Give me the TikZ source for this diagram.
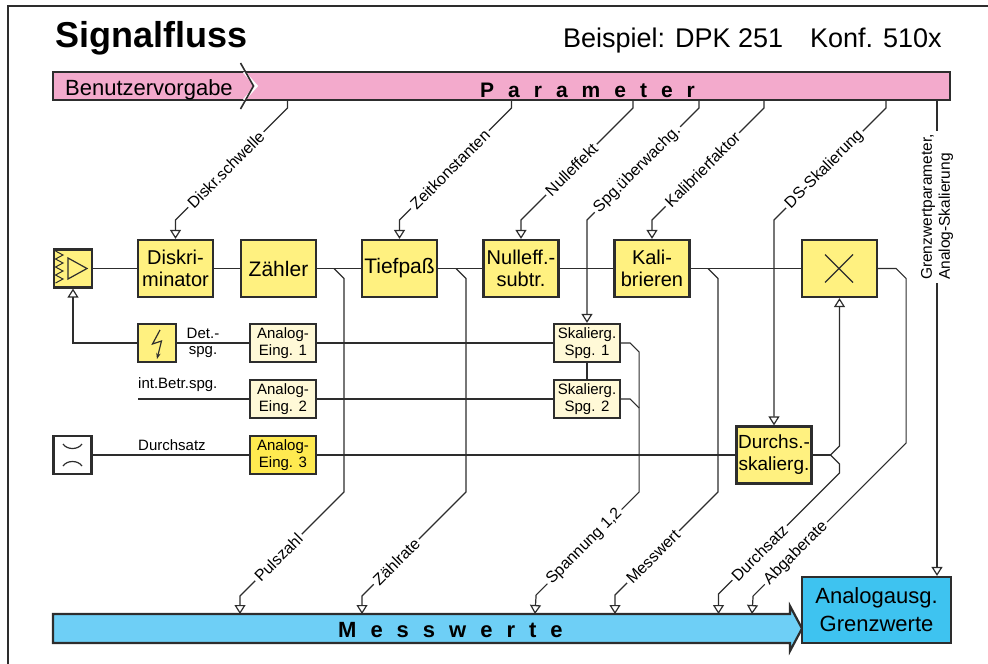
\documentclass[tikz,border=0pt]{standalone}
\usepackage{fontspec}
\setmainfont{Liberation Sans}
\usetikzlibrary{positioning}
\usetikzlibrary{arrows.meta}

\definecolor{rahmen}{RGB}{45,45,45}
\definecolor{rosa}{RGB}{243,170,204}
\definecolor{blau}{RGB}{110,207,246}
\definecolor{dblau}{RGB}{62,195,240}
\definecolor{gelb}{RGB}{255,241,128}
\definecolor{hgelb}{RGB}{255,249,215}
\definecolor{sgelb}{RGB}{255,234,80}

\newcommand{\schrift}[2]{\fontsize{#1}{#2}\selectfont}
\newcommand{\sperr}{\hskip 14pt}

\begin{document}
\begin{tikzpicture}[x=1pt, y=-1pt,
  sig/.style={draw=rahmen, line width=1.2pt},
  pfeil/.style={-{Triangle[open, length=9pt, width=11pt]}},
  blk/.style={draw=rahmen, line width=2.2pt, fill=gelb, align=center, inner sep=0pt,
    minimum width=75pt, minimum height=57pt, font=\schrift{20}{22}},
  sblk/.style={blk, fill=hgelb, minimum width=66pt, minimum height=38pt, font=\schrift{15}{17}},
  sym/.style={blk, minimum width=38pt, minimum height=38pt},
  lbl/.style={sloped, fill=white, inner sep=2.5pt, font=\schrift{16}{16}, pos=0.55},
  txt/.style={font=\schrift{15}{16}, inner sep=0pt},
  bar/.style={draw=rahmen, line width=2.2pt}]
 \useasboundingbox (0,0) rectangle (988,664);
 \draw[rahmen, line width=2pt] (8,664) -- (8,6) -- (988,6);

 \node[anchor=base west, inner sep=0pt, font=\schrift{36}{36}\bfseries] (titel) at (55,47) {Signalfluss};
 \node[anchor=base east, inner sep=0pt, font=\schrift{27}{27}] (bsp) at (942,47) {Beispiel: DPK 251\hspace{27pt}Konf. 510x};

 % Parameter
 \filldraw[bar, fill=rosa] (53,72) rectangle (950,100);
 \draw[white, line width=2.5pt] (244,72) -- (256.5,86) -- (244,100);
 \draw[rahmen, line width=1.6pt] (240.5,63) -- (253.5,86) -- (240.5,109);
 \node[anchor=base west, inner sep=0pt, font=\schrift{22}{22}] (benutzer) at (65,95.5) {Benutzervorgabe};
 \node[anchor=base west, inner sep=0pt, font=\schrift{21}{21}\bfseries] (param) at (480,97) {P\sperr a\sperr r\sperr a\sperr m\sperr e\sperr t\sperr e\sperr r};

 % Messwerte
 \filldraw[bar, fill=blau] (53,614) -- (790,614) -- (790,606) -- (802,628.5) -- (790,651) -- (790,643) -- (53,643) -- cycle;
 \node[anchor=base west, inner sep=0pt, font=\schrift{22}{22}\bfseries] (messw) at (338,637) {M\sperr e\sperr s\sperr s\sperr w\sperr e\sperr r\sperr t\sperr e};

 % Bloecke
 \node[sym] (amp) at (73,268.5) {};
 \node[blk] (disk) at (175.5,268.5) {Diskri-\\minator};
 \node[blk, font=\schrift{21}{22}] (zaehl) at (278.5,268.5) {Zähler};
 \node[blk, font=\schrift{21}{22}] (tief) at (399.5,268.5) {Tiefpaß};
 \node[blk] (null) at (521,268.5) {Nulleff.-\\subtr.};
 \node[blk] (kal) at (652,268.5) {Kali-\\brieren};
 \node[blk] (mult) at (839.5,268.5) {};
 \node[sym] (hv) at (157,343) {};
 \node[sblk] (ae1) at (283,343) {Analog-\\Eing. 1};
 \node[sblk] (ae2) at (283,399) {Analog-\\Eing. 2};
 \node[sblk, fill=sgelb] (ae3) at (283,455) {Analog-\\Eing. 3};
 \node[sym, fill=white] (flow) at (72.5,455) {};
 \node[sblk] (sk1) at (587,343) {Skalierg.\\Spg. 1};
 \node[sblk] (sk2) at (587,399) {Skalierg.\\Spg. 2};
 \node[blk, font=\schrift{19}{22}] (ds) at (774,455) {Durchs.-\\skalierg.};
 \node[blk, fill=dblau, minimum width=149pt, minimum height=66pt, font=\schrift{22}{28}] (aout) at (876.5,610) {Analogausg.\\Grenzwerte};

 % Symbole
 \draw[sig, line width=1pt] (55.5,251) -- (63,255) -- (55.5,259) -- (63,263) -- (55.5,267) -- (63,271) -- (55.5,275) -- (63,279) -- (55.5,283);
 \draw[sig] (68,258) -- (87,268.5) -- (68,279) -- cycle;
 \draw[sig, -{Stealth[length=6pt, width=4.5pt]}] (160,330) -- (152.5,344) -- (161.5,341) -- (157,359);
 \draw[sig] (825,254.5) -- (853,282.5) (825,282.5) -- (853,254.5);
 \draw[sig] (63,444) .. controls (67,450) and (78,450) .. (82,444);
 \draw[sig] (63,466) .. controls (67,460) and (78,460) .. (82,466);

 % Signalweg
 \draw[sig] (amp) -- (disk);
 \draw[sig] (disk) -- (zaehl);
 \draw[sig] (zaehl) -- (tief);
 \draw[sig] (tief) -- (null);
 \draw[sig] (null) -- (kal);
 \draw[sig] (kal) -- (mult);
 \draw[sig, pfeil] (hv.west) -| (amp.south);
 \draw[sig] (hv) -- (ae1);
 \draw[sig] (ae1) -- (sk1);
 \draw[sig] (ae2) -- (sk2);
 \draw[sig] (sk1) -- (sk2);
 \draw[sig] (flow) -- (ae3);
 \draw[sig] (ae3) -- (ds);
 \coordinate (ib) at (138,399);
 \draw[sig] (ib) -- (ae2);
 \node[txt, align=center] (detspg) at (203,343) {Det.-\\spg.};
 \node[txt, anchor=base west] (ibl) at (138,388) {int.Betr.spg.};
 \node[txt, anchor=base west] (dsl) at (138,450.5) {Durchsatz};

 % Parameter -> Bloecke
 \coordinate (t1) at (287.5,100);
 \coordinate (t2) at (511.5,100);
 \coordinate (t3) at (633,100);
 \coordinate (t4) at (699,100);
 \coordinate (t5) at (764,100);
 \coordinate (t6) at (886,100);
 \coordinate (t7) at (937,100);
 \draw[sig, pfeil] (t1) -- ++(0,8) -- node[lbl] {Diskr.schwelle} ++(-112,112) -- (disk.north);
 \draw[sig, pfeil] (t2) -- ++(0,8) -- node[lbl] {Zeitkonstanten} ++(-112,112) -- (tief.north);
 \draw[sig, pfeil] (t3) -- ++(0,8) -- node[lbl] {Nulleffekt} ++(-112,112) -- (null.north);
 \draw[sig, pfeil] (t4) -- ++(0,8) -- node[lbl] {Spg.überwachg.} ++(-112,112) -- (sk1.north);
 \draw[sig, pfeil] (t5) -- ++(0,8) -- node[lbl] {Kalibrierfaktor} ++(-112,112) -- (kal.north);
 \draw[sig, pfeil] (t6) -- ++(0,8) -- node[lbl] {DS-Skalierung} ++(-112,112) -- (ds.north);
 \draw[sig, pfeil] (t7) -- node[fill=white, rotate=90, inner sep=3pt, pos=0.225, align=left, font=\schrift{15.5}{18}] {Grenzwertparameter,\\Analog-Skalierung} (t7 |- aout.north);

 % Bloecke -> Messwerte
 \coordinate (m1) at (334,268.5);
 \coordinate (m2) at (456,268.5);
 \coordinate (m4) at (708,268.5);
 \coordinate (dn) at (830.5,455);
 \coordinate (e1) at (240,614);
 \coordinate (e2) at (362,614);
 \coordinate (e3) at (535,614);
 \coordinate (e4) at (615,614);
 \coordinate (e5) at (718.5,614);
 \coordinate (e6) at (752,614);
 \draw[sig, pfeil] (m1) -- ++(10,10) -- ++(0,213.5) -- node[lbl, pos=0.63] {Pulszahl} ++(-104,104) -- (e1);
 \draw[sig, pfeil] (m2) -- ++(10,10) -- ++(0,213.5) -- node[lbl, pos=0.67] {Zählrate} ++(-104,104) -- (e2);
 \draw[sig, pfeil] (sk1.east) -- ++(9,0) -- ++(9,9) -- ++(0,140) -- node[lbl, pos=0.53] {Spannung 1,2} ++(-103,103) -- (e3);
 \draw[sig] (sk2.east) -- ++(9,0) -- ++(9,9);
 \draw[sig, pfeil] (m4) -- ++(10,10) -- ++(0,213.5) -- node[lbl, pos=0.63] {Messwert} ++(-103,103) -- (e4);
 \draw[sig] (ds.east) -- (dn);
 \draw[sig, pfeil] (dn) -- ++(9,-9) -- (mult.south);
 \draw[sig, pfeil] (dn) -- ++(9,9) -- ++(0,9) -- node[lbl, pos=0.66] {Durchsatz} ++(-121,121) -- (e5);
 \draw[sig, pfeil] (mult.east) -- ++(18,0) -- ++(10,10) -- ++(0,164.5) -- node[lbl, pos=0.72] {Abgaberate} ++(-153,153) -- (e6);
\end{tikzpicture}
\end{document}
